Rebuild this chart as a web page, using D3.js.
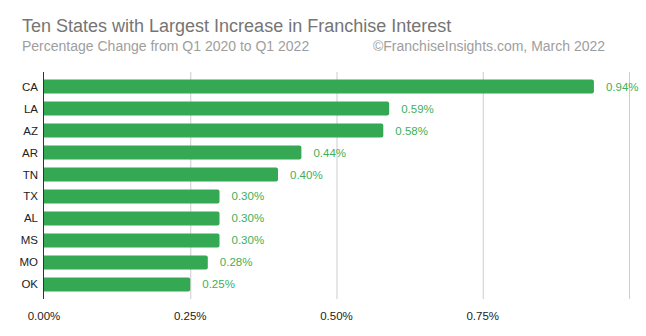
<!DOCTYPE html>
<html><head><meta charset="utf-8">
<script src="https://cdn.jsdelivr.net/npm/d3@7"></script>
<style>body{margin:0;background:#fff}svg{display:block;font-family:"Liberation Sans",Arial,sans-serif}</style>
</head><body><svg id="c" width="646" height="336"></svg>
<script>
const states = ["CA","LA","AZ","AR","TN","TX","AL","MS","MO","OK"];
const values = [0.94,0.59,0.58,0.44,0.40,0.30,0.30,0.30,0.28,0.25];
const ticks = [0,0.25,0.5,0.75,1.0];
const tickLabels = ["0.00%","0.25%","0.50%","0.75%",""];
const title = "Ten States with Largest Increase in Franchise Interest";
const subtitle = "Percentage Change from Q1 2020 to Q1 2022";
const credit = "©FranchiseInsights.com, March 2022";

const svg = d3.select("#c");
const x = d3.scaleLinear().domain([0,1]).range([44,629]);
const y = d3.scaleBand().domain(states).range([72,299]).paddingInner(0.36).paddingOuter(0.34);
const green = "#34a853";

svg.append("text").attr("x",22).attr("y",32).attr("font-size",18).attr("fill","#757575").text(title);
svg.append("text").attr("x",22).attr("y",51).attr("font-size",14).attr("fill","#9e9e9e").text(subtitle);
svg.append("text").attr("x",373).attr("y",51).attr("font-size",14).attr("fill","#9e9e9e").text(credit);

svg.append("g").selectAll("line").data(ticks.slice(1)).join("line")
  .attr("x1",d=>x(d)+0.5).attr("x2",d=>x(d)+0.5).attr("y1",72).attr("y2",299)
  .attr("stroke","#cccccc");

svg.append("g").selectAll("path").data(states).join("path")
  .attr("fill",green)
  .attr("d",(s,i)=>{
    const x0=x(0), x1=x(values[i]), y0=y(s), h=y.bandwidth(), r=2;
    return `M${x0},${y0}H${x1-r}Q${x1},${y0} ${x1},${y0+r}V${y0+h-r}Q${x1},${y0+h} ${x1-r},${y0+h}H${x0}Z`;
  });

svg.append("g").selectAll("text").data(states).join("text")
  .attr("x",(s,i)=>x(values[i])+12).attr("y",s=>y(s)+y.bandwidth()/2+4)
  .attr("font-size",11.5).attr("fill","#3daf5b")
  .text((s,i)=>values[i].toFixed(2)+"%");

svg.append("g").selectAll("text").data(states).join("text")
  .attr("x",38).attr("y",s=>y(s)+y.bandwidth()/2+4)
  .attr("text-anchor","end").attr("font-size",11.5).attr("fill","#222").text(s=>s);

svg.append("line").attr("x1",x(0)-0.5).attr("x2",x(0)-0.5).attr("y1",72).attr("y2",299)
  .attr("stroke","#333").attr("stroke-width",1);

svg.append("g").selectAll("text").data(ticks).join("text")
  .attr("x",d=>x(d)).attr("y",320).attr("text-anchor","middle")
  .attr("font-size",11.5).attr("fill","#222").text((d,i)=>tickLabels[i]);
</script></body></html>
